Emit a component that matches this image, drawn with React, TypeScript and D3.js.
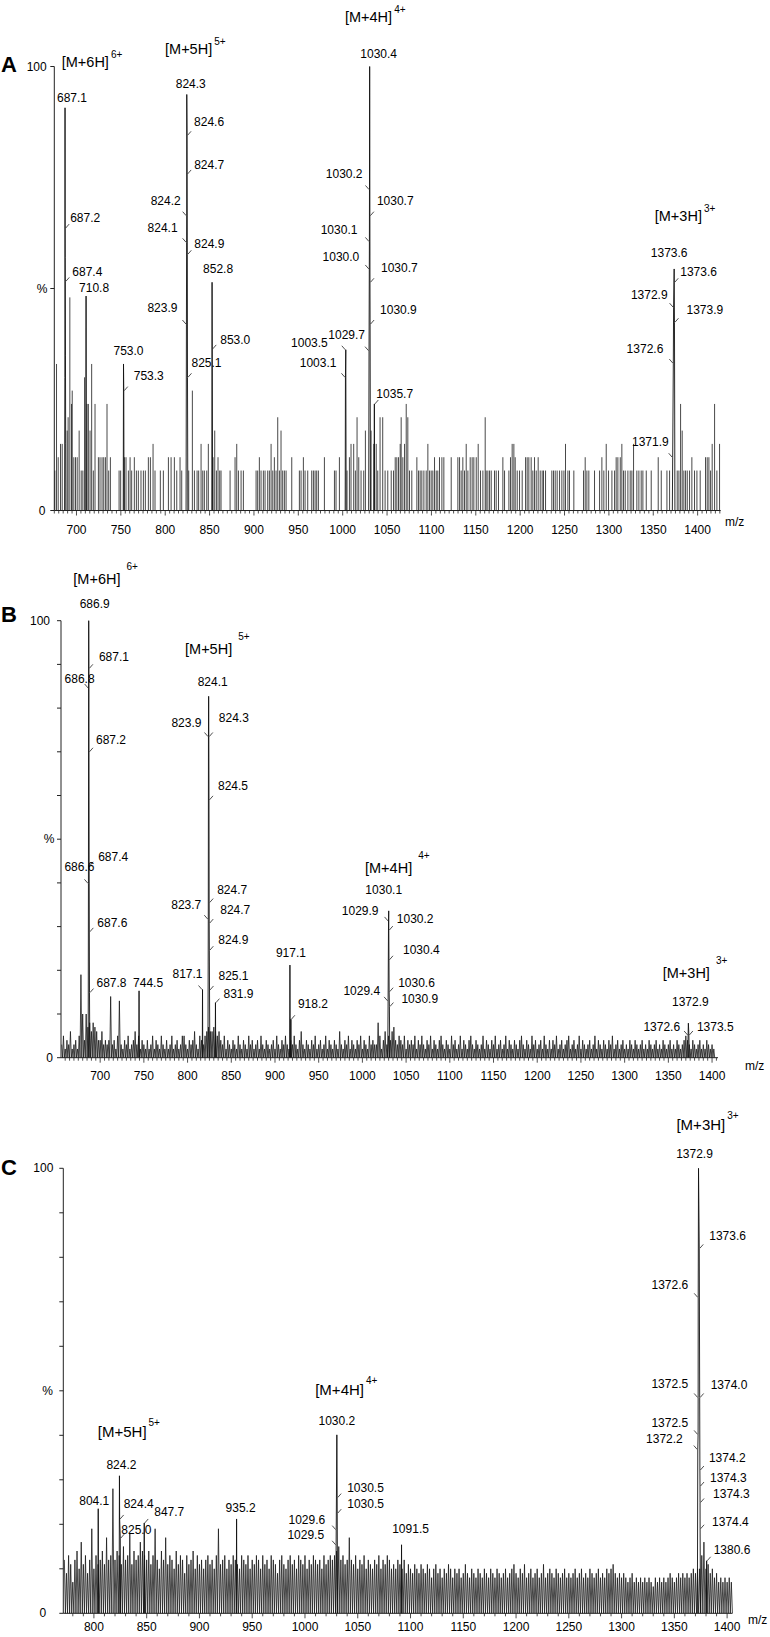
import React from "react";
import * as d3 from "d3";

type P = [number, number];
type Side = "t" | "l" | "r";
// text, m/z, % at the tick point, side, dx, dy (px offsets of the text)
type Lab = [string, number, number, Side, number, number];
// ion, charge, m/z of text start, % of text baseline
type Ion = [string, string, number, number];

const FONT = "'Liberation Sans', Arial, Helvetica, sans-serif";

// ---------------- panel A ----------------
const ticksA = [700, 750, 800, 850, 900, 950, 1000, 1050, 1100, 1150, 1200, 1250, 1300, 1350, 1400];

const noiseA: P[] = [
  [675.6, 9], [677.5, 33], [679.4, 12], [682.0, 15], [683.9, 15], [689.5, 18], [690.6, 21], [692.5, 48],
  [694.4, 24], [695.2, 27], [697.0, 12], [698.9, 12], [700.8, 12], [703.0, 18], [705.3, 9], [707.2, 9],
  [709.1, 30], [711.9, 24], [713.4, 24], [715.3, 18], [717.1, 33], [719.0, 9], [720.9, 24], [724.7, 12],
  [726.5, 12], [728.8, 12], [730.7, 12], [732.6, 12], [734.4, 24], [736.3, 9], [738.2, 12], [748.0, 9],
  [749.8, 9], [754.0, 12], [755.8, 12], [758.5, 9], [760.4, 12], [762.2, 9], [765.2, 12], [767.5, 9],
  [769.7, 9], [772.7, 9], [775.4, 9], [777.6, 9], [781.0, 12], [783.3, 12], [786.3, 15], [788.5, 9],
  [794.5, 9], [797.9, 9], [803.6, 12], [806.6, 12], [810.3, 12], [813.0, 9], [816.7, 12], [818.6, 9],
  [826.5, 9], [830.6, 27], [832.9, 9], [835.9, 9], [837.7, 9], [840.4, 15], [842.3, 9], [844.1, 9],
  [846.8, 9], [848.6, 15], [853.9, 12], [855.8, 18], [857.7, 9], [859.5, 12], [861.4, 9], [862.9, 9],
  [873.1, 9], [878.7, 12], [880.6, 15], [882.5, 9], [885.5, 9], [888.1, 9], [902.4, 9], [904.2, 9],
  [906.1, 12], [908.0, 9], [910.6, 9], [912.5, 9], [915.5, 9], [917.4, 9], [919.3, 15], [921.2, 9],
  [923.0, 12], [924.9, 9], [926.8, 21], [928.7, 9], [930.5, 18], [932.4, 9], [934.3, 9], [936.2, 9],
  [942.6, 12], [951.2, 9], [953.1, 9], [955.7, 12], [957.6, 9], [960.6, 9], [965.1, 9], [967.0, 9],
  [968.9, 9], [970.7, 9], [972.6, 9], [979.4, 12], [990.7, 9], [992.5, 9], [996.3, 12], [1004.9, 9],
  [1007.6, 12], [1009.4, 15], [1012.4, 15], [1014.3, 9], [1016.2, 21], [1018.1, 12], [1020.7, 9], [1023.7, 9],
  [1025.6, 18], [1032.0, 18], [1035.0, 15], [1037.8, 15], [1039.5, 9], [1042.1, 21], [1045.1, 21], [1047.8, 9],
  [1050.8, 9], [1054.7, 9], [1057.3, 9], [1059.2, 12], [1061.0, 12], [1062.9, 12], [1064.8, 15], [1065.9, 21],
  [1067.8, 12], [1069.7, 15], [1071.6, 24], [1073.4, 21], [1075.3, 9], [1077.9, 9], [1083.6, 12], [1085.5, 9],
  [1087.3, 9], [1089.2, 9], [1091.5, 9], [1094.1, 9], [1096.0, 15], [1097.9, 9], [1099.7, 9], [1101.6, 9],
  [1103.5, 12], [1105.4, 9], [1107.2, 9], [1109.1, 12], [1111.8, 12], [1114.0, 12], [1122.3, 12], [1129.8, 12],
  [1131.7, 12], [1133.5, 9], [1135.4, 12], [1137.3, 9], [1139.2, 15], [1141.1, 9], [1143.7, 12], [1145.9, 12],
  [1147.8, 12], [1150.5, 12], [1152.7, 15], [1155.3, 9], [1158.0, 9], [1160.6, 21], [1161.7, 9], [1163.6, 9],
  [1165.5, 9], [1167.4, 9], [1171.1, 9], [1173.0, 9], [1175.6, 9], [1180.5, 12], [1182.4, 9], [1187.3, 9],
  [1189.1, 12], [1191.0, 15], [1192.9, 15], [1194.4, 12], [1196.7, 9], [1199.3, 9], [1202.3, 9], [1206.1, 12],
  [1207.9, 12], [1209.8, 12], [1212.4, 12], [1214.3, 9], [1216.2, 12], [1218.1, 9], [1220.3, 12], [1222.6, 9],
  [1224.8, 9], [1226.3, 9], [1228.6, 9], [1235.7, 9], [1237.6, 9], [1239.5, 9], [1241.7, 9], [1244.4, 9],
  [1247.0, 9], [1249.3, 9], [1251.1, 15], [1253.8, 9], [1255.6, 9], [1260.5, 9], [1271.4, 9], [1273.3, 12],
  [1275.2, 9], [1277.4, 9], [1283.8, 9], [1289.5, 9], [1292.1, 12], [1294.3, 9], [1297.0, 15], [1299.6, 9],
  [1303.4, 9], [1306.4, 9], [1308.2, 12], [1310.1, 12], [1312.8, 12], [1314.6, 15], [1316.5, 9], [1318.4, 9],
  [1321.4, 9], [1324.0, 9], [1325.9, 9], [1327.8, 15], [1331.5, 9], [1333.8, 9], [1336.4, 9], [1338.3, 9],
  [1342.1, 9], [1347.7, 9], [1355.6, 12], [1359.0, 9], [1365.4, 9], [1368.4, 9], [1377.0, 9], [1378.9, 9],
  [1380.8, 24], [1382.6, 18], [1384.5, 9], [1386.4, 9], [1388.3, 9], [1390.9, 9], [1393.5, 12], [1396.5, 9],
  [1399.2, 9], [1402.9, 9], [1408.9, 12], [1410.8, 12], [1412.7, 12], [1414.6, 9], [1416.4, 15], [1419.1, 24],
  [1421.7, 9], [1424.7, 15],
];

const peaksA: P[][] = [
  [[686.6, 0], [686.9, 30], [687.1, 90.7], [687.2, 63.6], [687.3, 57], [687.4, 51.6], [687.6, 35], [687.8, 15], [688.0, 0]],
  [[710.5, 0], [710.8, 48.3], [711.1, 0]],
  [[752.7, 0], [753.0, 33], [753.3, 27], [753.6, 0]],
  [[823.5, 0], [823.9, 42], [824.1, 60.4], [824.2, 66.4], [824.3, 93.7], [824.6, 84.5], [824.7, 75.8], [824.9, 57.7], [825.1, 30], [825.5, 0]],
  [[852.5, 0], [852.8, 51.4], [853.0, 36.4], [853.4, 0]],
  [[1002.8, 0], [1003.1, 30], [1003.5, 36.2], [1003.9, 0]],
  [[1029.3, 0], [1029.7, 36], [1030.0, 54.4], [1030.1, 60.6], [1030.2, 72.3], [1030.4, 100], [1030.65, 66.4], [1030.75, 51.4], [1030.9, 42], [1031.3, 0]],
  [[1035.4, 0], [1035.7, 24], [1036.0, 0]],
  [[1371.5, 0], [1371.9, 12], [1372.6, 33.2], [1372.9, 45.8], [1373.55, 54.4], [1373.65, 51.4], [1373.9, 42.4], [1374.4, 0]],
];

const labelsA: Lab[] = [
  ["687.1", 687.1, 90.7, "t", 7, -6],
  ["824.3", 824.3, 93.7, "t", 4, -6],
  ["1030.4", 1030.4, 100, "t", 9, -9],
  ["852.8", 852.8, 51.4, "t", 6, -9],
  ["753.0", 753.0, 33, "t", 5, -9],
  ["710.8", 710.8, 48.3, "t", 8, -4],
  ["1373.6", 1373.55, 54.4, "t", -5, -12],
  ["824.6", 824.6, 84.5, "r", 7, -9],
  ["824.7", 824.7, 75.8, "r", 7, -5],
  ["824.9", 824.9, 57.7, "r", 7, -6],
  ["825.1", 825.1, 30, "r", 4, -10],
  ["853.0", 853.0, 36.4, "r", 8, -5],
  ["687.2", 687.2, 63.6, "r", 5, -6],
  ["687.4", 687.4, 51.6, "r", 7, -5],
  ["753.3", 753.3, 27, "r", 10, -11],
  ["1030.7", 1030.65, 66.4, "r", 7, -11],
  ["1030.7", 1030.75, 51.4, "r", 11, -10],
  ["1030.9", 1030.9, 42, "r", 10, -10],
  ["1035.7", 1035.7, 24, "r", 2, -6],
  ["1373.6", 1373.65, 51.4, "r", 6, -6],
  ["1373.9", 1373.9, 42.4, "r", 12, -8],
  ["824.2", 824.2, 66.4, "l", -6, -11],
  ["824.1", 824.1, 60.4, "l", -9, -10],
  ["823.9", 823.9, 42, "l", -9, -12],
  ["1030.2", 1030.2, 72.3, "l", -7, -11],
  ["1030.1", 1030.1, 60.6, "l", -12, -7],
  ["1030.0", 1030.0, 54.4, "l", -10, -8],
  ["1029.7", 1029.7, 36, "l", -4, -12],
  ["1003.5", 1003.5, 36.2, "l", -18, -3],
  ["1003.1", 1003.1, 30, "l", -9, -10],
  ["1372.9", 1372.9, 45.8, "l", -6, -8],
  ["1372.6", 1372.6, 33.2, "l", -10, -10],
  ["1371.9", 1371.9, 12, "l", -4, -11],
];

const ionsA: Ion[] = [
  ["[M+6H]", "6+", 683.4, 99.9],
  ["[M+5H]", "5+", 799.8, 102.8],
  ["[M+4H]", "4+", 1002.6, 110],
  ["[M+3H]", "3+", 1351.7, 65.2],
];

// ---------------- panel B ----------------
const ticksB = [700, 750, 800, 850, 900, 950, 1000, 1050, 1100, 1150, 1200, 1250, 1300, 1350, 1400];
const noiseStartB = 656;
const noiseStepB = 2;
const noiseB = [
  3, 5, 2, 4, 3, 6, 2, 3, 4, 2, 5, 19, 10, 4, 10, 7, 8, 6, 8, 7,
  6, 4, 4, 6, 3, 4, 3, 4, 14, 3, 4, 2, 5, 13, 3, 2, 4, 3, 5, 2,
  3, 4, 6, 3, 5, 2, 4, 3, 2, 4, 2, 3, 5, 2, 4, 3, 2, 5, 3, 2,
  4, 2, 3, 5, 2, 3, 4, 2, 3, 5, 5, 3, 2, 4, 3, 4, 6, 3, 2, 5,
  4, 3, 5, 6, 7, 6, 6, 7, 6, 5, 6, 4, 3, 5, 2, 4, 3, 2, 4, 3,
  2, 5, 3, 2, 4, 3, 2, 5, 3, 4, 2, 3, 4, 2, 5, 3, 2, 4, 3, 2,
  3, 4, 2, 5, 3, 2, 4, 3, 5, 3, 2, 4, 3, 5, 3, 2, 4, 6, 3, 2,
  4, 3, 2, 4, 3, 5, 2, 3, 4, 2, 3, 5, 2, 4, 3, 2, 4, 3, 2, 6,
  3, 2, 4, 3, 5, 2, 4, 3, 2, 4, 3, 5, 2, 4, 3, 2, 5, 3, 4, 3,
  3, 8, 5, 2, 4, 6, 3, 5, 4, 6, 7, 4, 3, 5, 4, 3, 5, 2, 4, 3,
  4, 3, 5, 2, 4, 3, 5, 3, 2, 4, 3, 5, 2, 4, 3, 2, 4, 5, 3, 2,
  4, 3, 2, 5, 3, 4, 2, 3, 5, 2, 4, 3, 2, 4, 5, 3, 2, 4, 3, 2,
  3, 5, 2, 4, 3, 2, 4, 3, 5, 2, 3, 4, 2, 3, 5, 2, 4, 3, 2, 4,
  3, 2, 4, 5, 3, 2, 4, 3, 2, 5, 3, 4, 2, 3, 4, 2, 5, 3, 2, 4,
  2, 4, 3, 5, 2, 3, 4, 2, 3, 4, 5, 2, 3, 4, 2, 3, 5, 2, 4, 3,
  2, 3, 4, 2, 3, 5, 2, 4, 3, 2, 4, 3, 2, 4, 3, 5, 2, 3, 4, 2,
  3, 4, 2, 3, 2, 4, 3, 2, 4, 3, 2, 3, 4, 2, 3, 2, 4, 3, 2, 3,
  4, 2, 3, 2, 4, 3, 2, 3, 4, 2, 3, 2, 4, 3, 2, 3, 4, 5, 4, 3,
  2, 4, 3, 2, 3, 4, 2, 3, 2, 4, 3, 2, 3, 2,
];

const peaksB: P[][] = [
  [[686.3, 0], [686.6, 39.9], [686.8, 84.6], [686.9, 100], [687.1, 89.1], [687.2, 70], [687.4, 43.9], [687.6, 28.8], [687.8, 14.9], [688.2, 0]],
  [[744.2, 0], [744.5, 15.3], [744.8, 0]],
  [[816.8, 0], [817.1, 15.6], [817.4, 0]],
  [[823.3, 0], [823.7, 31.7], [823.9, 73.5], [824.1, 82.7], [824.3, 73.5], [824.5, 59], [824.7, 35.5], [824.75, 30.8], [824.9, 24.6], [825.1, 15.5], [825.5, 0]],
  [[831.6, 0], [831.9, 12.6], [832.2, 0]],
  [[916.8, 0], [917.1, 21.2], [917.4, 0]],
  [[917.9, 0], [918.2, 8.8], [918.5, 0]],
  [[1029.0, 0], [1029.4, 13], [1029.9, 31.3], [1030.1, 33.6], [1030.2, 29.2], [1030.4, 22.4], [1030.6, 15.1], [1030.9, 11.7], [1031.3, 0]],
  [[1372.2, 0], [1372.6, 5.2], [1372.9, 7.9], [1373.5, 5.2], [1373.9, 0]],
];

const labelsB: Lab[] = [
  ["686.9", 686.9, 100, "t", 6, -13],
  ["824.1", 824.1, 82.7, "t", 4, -10],
  ["744.5", 744.5, 15.3, "t", 9, -4],
  ["917.1", 917.1, 21.2, "t", 1, -8],
  ["1030.1", 1030.1, 33.6, "t", -5, -17],
  ["1372.9", 1372.9, 7.9, "t", 2, -17],
  ["687.1", 687.1, 89.1, "r", 10, -7],
  ["687.2", 687.2, 70, "r", 7, -8],
  ["687.4", 687.4, 43.9, "r", 9, -5],
  ["687.6", 687.6, 28.8, "r", 8, -5],
  ["687.8", 687.8, 14.9, "r", 7, -6],
  ["824.3", 824.3, 73.5, "r", 10, -15],
  ["824.5", 824.5, 59, "r", 9, -10],
  ["824.7", 824.7, 35.5, "r", 8, -9],
  ["824.7", 824.75, 30.8, "r", 11, -9],
  ["824.9", 824.9, 24.6, "r", 9, -6],
  ["825.1", 825.1, 15.5, "r", 9, -10],
  ["831.9", 831.9, 12.6, "r", 8, -5],
  ["918.2", 918.2, 8.8, "r", 7, -11],
  ["1030.2", 1030.2, 29.2, "r", 8, -7],
  ["1030.4", 1030.4, 22.4, "r", 14, -6],
  ["1030.6", 1030.6, 15.1, "r", 9, -5],
  ["1030.9", 1030.9, 11.7, "r", 12, -4],
  ["1373.5", 1373.5, 5.2, "r", 8, -4],
  ["686.8", 686.8, 84.6, "l", 6, -5],
  ["686.6", 686.6, 39.9, "l", 6, -12],
  ["823.9", 823.9, 73.5, "l", -7, -10],
  ["817.1", 817.1, 15.6, "l", 0, -12],
  ["823.7", 823.7, 31.7, "l", -7, -10],
  ["1029.9", 1029.9, 31.3, "l", -10, -6],
  ["1029.4", 1029.4, 13, "l", -8, -6],
  ["1372.6", 1372.6, 5.2, "l", -8, -4],
];

const ionsB: Ion[] = [
  ["[M+6H]", "6+", 669.3, 108.4],
  ["[M+5H]", "5+", 797.1, 92.4],
  ["[M+4H]", "4+", 1003.0, 42.3],
  ["[M+3H]", "3+", 1343.6, 18.2],
];

// ---------------- panel C ----------------
const ticksC = [800, 850, 900, 950, 1000, 1050, 1100, 1150, 1200, 1250, 1300, 1350, 1400];
const noiseStartC = 772;
const noiseStepC = 2;
const noiseC = [
  12, 9, 13, 11, 7, 12, 14, 10, 16, 11, 13, 9, 12, 19, 10, 13, 11, 12, 14, 11,
  17, 12, 13, 28, 12, 14, 13, 11, 15, 12, 13, 18, 11, 14, 12, 13, 16, 14, 13, 12,
  14, 11, 13, 19, 12, 10, 14, 12, 17, 11, 13, 12, 10, 14, 11, 13, 12, 9, 13, 11,
  12, 14, 10, 13, 11, 12, 10, 12, 13, 11, 12, 10, 13, 19, 11, 12, 13, 10, 12, 11,
  13, 12, 11, 10, 13, 12, 11, 13, 10, 12, 11, 13, 12, 10, 13, 11, 12, 10, 13, 12,
  11, 9, 12, 13, 11, 10, 12, 13, 11, 12, 10, 13, 12, 11, 13, 10, 12, 11, 13, 12,
  11, 12, 10, 13, 11, 12, 13, 12, 13, 14, 15, 12, 13, 11, 12, 17, 12, 11, 13, 10,
  12, 11, 13, 10, 12, 11, 10, 12, 11, 13, 10, 12, 11, 13, 12, 10, 11, 10, 12, 11,
  10, 12, 9, 11, 10, 9, 11, 10, 9, 11, 10, 9, 11, 10, 8, 10, 11, 9, 10, 8,
  10, 9, 11, 10, 8, 10, 9, 10, 8, 9, 11, 9, 8, 10, 9, 8, 10, 9, 8, 10,
  9, 8, 10, 9, 8, 10, 9, 8, 9, 10, 8, 9, 10, 11, 9, 8, 10, 9, 11, 8,
  9, 10, 8, 9, 10, 8, 9, 11, 8, 9, 10, 9, 8, 10, 9, 8, 9, 10, 8, 9,
  8, 9, 10, 8, 9, 10, 8, 9, 8, 10, 9, 8, 9, 10, 8, 9, 8, 10, 9, 10,
  11, 9, 8, 9, 8, 9, 8, 7, 8, 9, 7, 8, 7, 8, 7, 8, 7, 8, 7, 6,
  8, 7, 8, 7, 8, 7, 8, 9, 8, 7, 8, 9, 8, 9, 8, 9, 8, 9, 10, 9,
  10, 10, 13, 16, 10, 11, 9, 10, 8, 9, 7, 8, 7, 8, 7, 8, 7,
];

const peaksC: P[][] = [
  [[803.8, 0], [804.1, 23.5], [804.4, 0]],
  [[823.9, 0], [824.2, 30.9], [824.4, 21.2], [825.0, 16.9], [825.3, 0]],
  [[847.4, 0], [847.7, 20.3], [848.0, 0]],
  [[934.9, 0], [935.2, 21.2], [935.5, 0]],
  [[1029.2, 0], [1029.5, 15.4], [1029.6, 18.8], [1030.2, 40.1], [1030.5, 26], [1030.55, 22.5], [1030.9, 0]],
  [[1091.2, 0], [1091.5, 15.4], [1091.8, 0]],
  [[1371.8, 0], [1372.2, 36.8], [1372.5, 40.2], [1372.55, 48.5], [1372.6, 71], [1372.9, 100], [1373.6, 82], [1374.0, 48.5], [1374.2, 32.2], [1374.3, 28.6], [1374.35, 24.9], [1374.4, 19], [1374.8, 0]],
  [[1380.3, 0], [1380.6, 11.8], [1380.9, 0]],
];

const labelsC: Lab[] = [
  ["1372.9", 1372.9, 100, "t", -4, -10],
  ["824.2", 824.2, 30.9, "t", 2, -7],
  ["804.1", 804.1, 23.5, "t", -4, -4],
  ["935.2", 935.2, 21.2, "t", 4, -7],
  ["1030.2", 1030.2, 40.1, "t", 0, -10],
  ["1091.5", 1091.5, 15.4, "t", 9, -12],
  ["1373.6", 1373.6, 82, "r", 10, -8],
  ["1374.0", 1374.0, 48.5, "r", 11, -8],
  ["1374.2", 1374.2, 32.2, "r", 9, -8],
  ["1374.3", 1374.3, 28.6, "r", 10, -4],
  ["1374.3", 1374.35, 24.9, "r", 13, -4],
  ["1374.4", 1374.4, 19, "r", 12, -3],
  ["1380.6", 1380.6, 11.8, "r", 7, -7],
  ["824.4", 824.4, 21.2, "r", 4, -11],
  ["825.0", 825.0, 16.9, "r", 1, -4],
  ["847.7", 847.7, 20.3, "r", 10, -7],
  ["1030.5", 1030.5, 26, "r", 10, -6],
  ["1030.5", 1030.55, 22.5, "r", 10, -5],
  ["1372.6", 1372.6, 71, "l", -10, -8],
  ["1372.5", 1372.55, 48.5, "l", -10, -9],
  ["1372.5", 1372.5, 40.2, "l", -10, -7],
  ["1372.2", 1372.2, 36.8, "l", -15, -7],
  ["1029.6", 1029.6, 18.8, "l", -11, -6],
  ["1029.5", 1029.5, 15.4, "l", -12, -6],
];

const ionsC: Ion[] = [
  ["[M+5H]", "5+", 803.7, 39.6],
  ["[M+4H]", "4+", 1009.7, 49.1],
  ["[M+3H]", "3+", 1352, 108.6],
];

interface Cfg {
  letter: string;
  letterY: number;
  dom: [number, number];
  xr: [number, number];
  yr: [number, number];
  ticks: number[];
  tickDy: number;
  minor: number;
  yMinor: boolean;
  noise: P[];
  zigzag: boolean;
  step: number;
  peaks: P[][];
  labels: Lab[];
  ions: Ion[];
  ionSize: number;
  supDx: number;
  supDy: number;
  yLab: [number, number, number];
  mz: [number, number];
}

const gridPts = (vals: number[], start: number, step: number): P[] =>
  vals.map((v, i) => [start + i * step, v] as P);

const panels: Cfg[] = [
  {
    letter: "A", letterY: 71.5,
    dom: [675, 1426], xr: [54.3, 720.7], yr: [510.5, 66.5],
    ticks: ticksA, tickDy: 23, minor: 5, yMinor: false,
    noise: noiseA, zigzag: false, step: 0, peaks: peaksA, labels: labelsA, ions: ionsA,
    ionSize: 14.5, supDx: 2, supDy: -9,
    yLab: [36.7, 42, 42.2], mz: [725, 526],
  },
  {
    letter: "B", letterY: 621.5,
    dom: [655.2, 1406.8], xr: [61, 718], yr: [1057.7, 620.7],
    ticks: ticksB, tickDy: 22, minor: 5, yMinor: true,
    noise: gridPts(noiseB, noiseStartB, noiseStepB), zigzag: true, step: noiseStepB,
    peaks: peaksB, labels: labelsB, ions: ionsB,
    ionSize: 14.5, supDx: 6, supDy: -14,
    yLab: [40, 49, 49.5], mz: [745, 1070],
  },
  {
    letter: "C", letterY: 1175,
    dom: [771, 1405], xr: [63.3, 732.4], yr: [1613.3, 1168.3],
    ticks: ticksC, tickDy: 17.5, minor: 10, yMinor: true,
    noise: gridPts(noiseC, noiseStartC, noiseStepC), zigzag: true, step: noiseStepC,
    peaks: peaksC, labels: labelsC, ions: ionsC,
    ionSize: 15, supDx: 2, supDy: -11,
    yLab: [43.3, 47.5, 42.9], mz: [748, 1624],
  },
];

function Panel({ c }: { c: Cfg }) {
  const x = d3.scaleLinear().domain(c.dom).range(c.xr);
  const y = d3.scaleLinear().domain([0, 100]).range(c.yr);
  const line = d3.line<P>().x((d) => x(d[0])).y((d) => y(d[1]));
  const y0 = y(0);
  const ax = x(c.dom[0]);
  const minorTicks = d3.range(Math.ceil(c.dom[0] / c.minor) * c.minor, c.dom[1], c.minor);
  const yTicks = c.yMinor ? d3.range(0, 101, 10) : [0, 50, 100];

  // sticks for sparse noise; a continuum-like trace (down to the baseline between points) for dense noise
  let noisePath: string;
  if (c.zigzag) {
    noisePath = c.noise
      .map((d, i) => `${i ? "L" : "M"}${x(d[0]).toFixed(2)},${y(d[1]).toFixed(2)}L${x(d[0] + c.step / 2).toFixed(2)},${y0}`)
      .join("");
  } else {
    noisePath = c.noise.map((d) => `M${x(d[0]).toFixed(2)},${y0}V${y(d[1]).toFixed(2)}`).join("");
  }

  return (
    <g>
      <text x={1} y={c.letterY} fontSize={22} fontWeight="bold">{c.letter}</text>

      <path d={noisePath} stroke="#1a1a1a" strokeWidth={0.8} fill="none" />
      {c.peaks.map((p, i) => (
        <path key={i} d={line(p) || ""} stroke="#111" strokeWidth={0.9} fill="none" />
      ))}

      {/* axes */}
      <line x1={ax} x2={ax} y1={y(0)} y2={y(100)} stroke="#222" strokeWidth={1} />
      <line x1={ax} x2={x(c.dom[1])} y1={y0} y2={y0} stroke="#222" strokeWidth={1} />
      {yTicks.map((t) => (
        <line key={t} x1={ax - 4} x2={ax} y1={y(t)} y2={y(t)} stroke="#222" strokeWidth={1} />
      ))}
      {minorTicks.map((t) => (
        <line key={t} x1={x(t)} x2={x(t)} y1={y0} y2={y0 + (t % 50 === 0 ? 5 : 3)} stroke="#222" strokeWidth={0.8} />
      ))}
      {c.ticks.map((t) => (
        <text key={t} x={x(t)} y={y0 + c.tickDy} fontSize={12} textAnchor="middle">{t}</text>
      ))}
      <text x={c.yLab[0]} y={y(100) + 4} fontSize={12} textAnchor="middle">100</text>
      <text x={c.yLab[1]} y={y(50) + 4} fontSize={12} textAnchor="middle">%</text>
      <text x={c.yLab[2]} y={y(0) + 4} fontSize={12} textAnchor="middle">0</text>
      <text x={c.mz[0]} y={c.mz[1]} fontSize={12}>m/z</text>

      {/* peak annotations */}
      {c.labels.map(([t, m, p, side, dx, dy], i) => {
        const px = x(m);
        const py = y(p);
        if (side === "t") {
          return (
            <text key={i} x={px + dx} y={py + dy} fontSize={12} textAnchor="middle">{t}</text>
          );
        }
        const s = side === "r" ? 1 : -1;
        return (
          <g key={i}>
            <line x1={px + s * 0.5} y1={py} x2={px + s * 4} y2={py - 4} stroke="#222" strokeWidth={0.8} />
            <text x={px + dx} y={py + dy} fontSize={12} textAnchor={side === "r" ? "start" : "end"}>{t}</text>
          </g>
        );
      })}

      {c.ions.map(([ion, z, m, p], i) => (
        <text key={i} x={x(m)} y={y(p)} fontSize={c.ionSize}>
          {ion}
          <tspan dx={c.supDx} dy={c.supDy} fontSize={10}>{z}</tspan>
        </text>
      ))}
    </g>
  );
}

export default function App() {
  return (
    <svg
      width={770}
      height={1637}
      style={{ position: "absolute", left: 0, top: 0, background: "#fff" }}
      fontFamily={FONT}
    >
      <rect width={770} height={1637} fill="#fff" />
      {panels.map((c) => (
        <Panel key={c.letter} c={c} />
      ))}
    </svg>
  );
}
